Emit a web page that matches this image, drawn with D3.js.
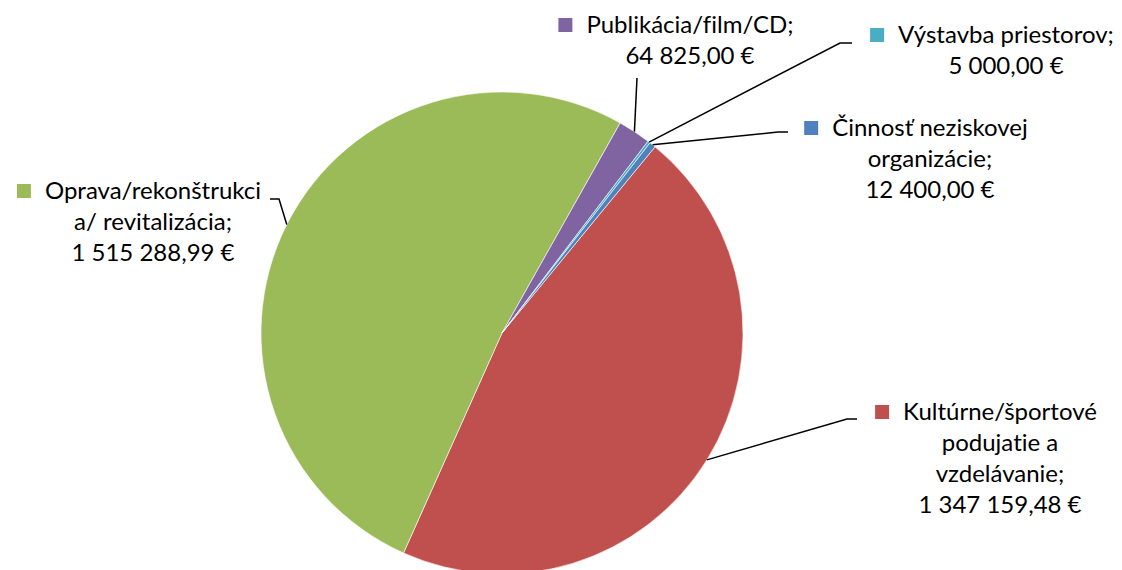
<!DOCTYPE html>
<html>
<head>
<meta charset="utf-8">
<script src="https://cdn.jsdelivr.net/npm/d3@7"></script>
<style>
  body { margin: 0; background: #fff; }
  text { font-family: Lato, "Open Sans", sans-serif; fill: #000; font-variant-ligatures: none; }
</style>
</head>
<body>
<div id="chart"></div>
<script>
var width = 1122;
var height = 570;

// data (slice order clockwise from the red one)
var categories = ["Kultúrne/športové podujatie a vzdelávanie", "Oprava/rekonštrukcia/ revitalizácia", "Publikácia/film/CD", "Výstavba priestorov", "Činnosť neziskovej organizácie"];
var values = [1347159.48, 1515288.99, 64825.00, 5000.00, 12400.00];
var colors = ["#C0504D", "#9BBB59", "#8064A2", "#4BACC6", "#4F81BD"];
// label lines as they are broken in the chart
var labelLines = [
  ["Kultúrne/športové", "podujatie a", "vzdelávanie;"],
  ["Oprava/rekonštrukci", "a/ revitalizácia;"],
  ["Publikácia/film/CD;"],
  ["Výstavba priestorov;"],
  ["Činnosť neziskovej", "organizácie;"]
];

// layout of the labels: text centre x, first line centre y, leader end points
var labelPos = [
  {cx: 1000, cy: 412, leader: [[847, 419], [857, 419]]},
  {cx: 153, cy: 191, leader: [[279, 199], [270, 199]]},
  {cx: 690, cy: 25, leader: [[637, 78]]},
  {cx: 1006, cy: 35, leader: [[840, 43], [852, 43]]},
  {cx: 930, cy: 128, leader: [[778, 132], [788, 132]]}
];

var cx = 502, cy = 333, radius = 241;
var lineH = 31;
var fontSize = 24;

// number format like "1 347 159,48 €"
var fmt = d3.formatLocale({decimal: ",", thousands: "\u00a0", grouping: [3], currency: ["", " €"]}).format("$,.2f");

var svg = d3.select("#chart").append("svg")
  .attr("width", width)
  .attr("height", height);

var data = categories.map(function(c, i) { return {name: c, value: values[i], i: i}; });

var startA = 0.688;
var pie = d3.pie()
  .sort(null)
  .value(function(d) { return d.value; })
  .startAngle(startA)
  .endAngle(startA + 2 * Math.PI);

var arc = d3.arc().innerRadius(0).outerRadius(radius);

var g = svg.append("g").attr("transform", "translate(" + cx + "," + cy + ")");

var arcs = pie(data);

g.selectAll("path.slice")
  .data(arcs)
  .enter().append("path")
  .attr("class", "slice")
  .attr("d", arc)
  .attr("fill", function(d) { return colors[d.data.i]; })
  .attr("stroke", "#fff")
  .attr("stroke-width", 0.6);

// leader lines from the outer edge of each slice to its label
arcs.forEach(function(d) {
  var mid = (d.startAngle + d.endAngle) / 2;
  var p0 = [cx + radius * Math.sin(mid), cy - radius * Math.cos(mid)];
  var pts = [p0].concat(labelPos[d.data.i].leader);
  svg.append("path")
    .attr("d", d3.line()(pts))
    .attr("fill", "none")
    .attr("stroke", "#000")
    .attr("stroke-width", 1.5);
});

// labels
data.forEach(function(d, i) {
  var pos = labelPos[i];
  var lines = labelLines[i].concat([fmt(d.value)]);
  var lg = svg.append("g");
  lines.forEach(function(t, k) {
    var tx = lg.append("text")
      .attr("x", pos.cx)
      .attr("y", pos.cy + k * lineH)
      .attr("dy", "0.35em")
      .attr("text-anchor", "middle")
      .style("font-size", fontSize + "px")
      .text(t);
    if (k === 0) {
      var w = tx.node().getComputedTextLength();
      lg.append("rect")
        .attr("x", pos.cx - w / 2 - 28)
        .attr("y", pos.cy - 7)
        .attr("width", 14)
        .attr("height", 14)
        .attr("fill", colors[i]);
    }
  });
});
</script>
</body>
</html>
